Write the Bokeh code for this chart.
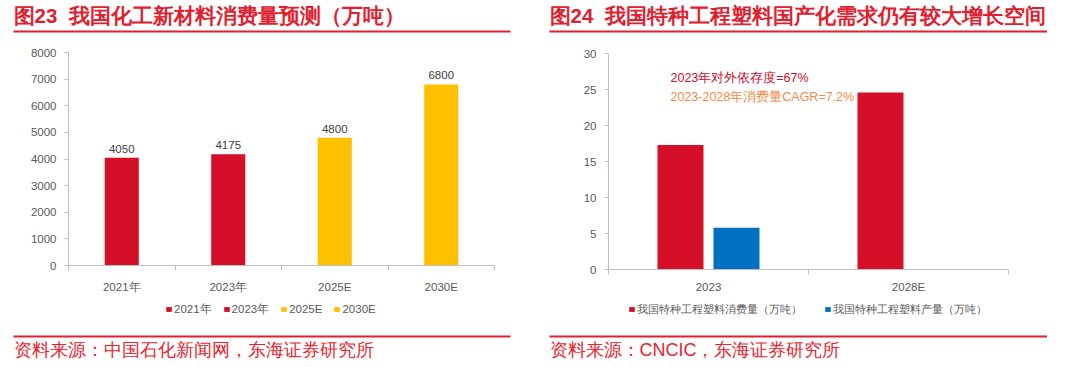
from bokeh.plotting import figure
from bokeh.models import (ColumnDataSource, Range1d, FixedTicker, Legend, LegendItem,
                          Label, BoxAnnotation)
from bokeh.layouts import row, column
from bokeh.embed import file_html
from bokeh.resources import INLINE
from bokeh.core.properties import value

# ---------------- data ----------------
left_title = "图23\u00a0\u00a0我国化工新材料消费量预测（万吨）"
left_source = "资料来源：中国石化新闻网，东海证券研究所"
left_categories = ["2021年", "2023年", "2025E", "2030E"]
left_values = [4050, 4175, 4800, 6800]
left_yticks = [0, 1000, 2000, 3000, 4000, 5000, 6000, 7000, 8000]

right_title = "图24\u00a0\u00a0我国特种工程塑料国产化需求仍有较大增长空间"
right_source = "资料来源：CNCIC，东海证券研究所"
right_categories = ["2023", "2028E"]
right_consumption = [17.3, 24.6]
right_production = [5.8, float("nan")]
right_series = ["我国特种工程塑料消费量（万吨）", "我国特种工程塑料产量（万吨）"]
right_yticks = [0, 5, 10, 15, 20, 25, 30]
note1 = "2023年对外依存度=67%"
note2 = "2023-2028年消费量CAGR=7.2%"

# ---------------- styles ----------------
RED = "#d50f27"
YELLOW = "#ffc000"
BLUE = "#0070c0"
TITLE_RED = "#e0202e"
SRC_RED = "#e8232f"
AXIS_GRAY = "#bfbfbf"
TEXT_GRAY = "#595959"
FONT = "Liberation Sans"
left_colors = [RED, RED, YELLOW, YELLOW]
right_colors = [RED, BLUE]
NAN = float("nan")


def no_align(p):
    if "frame_align" in p.properties():
        p.frame_align = False
    return p


def decor_fig(width, height):
    p = figure(width=width, height=height, output_backend="svg", toolbar_location=None,
               x_range=Range1d(0, width), y_range=Range1d(0, height),
               min_border=0, x_axis_location=None, y_axis_location=None)
    p.outline_line_color = None
    p.grid.visible = False
    return no_align(p)


def header(width, text, x0, x1):
    p = decor_fig(width, 33)
    p.add_layout(Label(x=x0, y=18, text=text, text_baseline="middle", text_font=FONT,
                       text_font_size="20.5px", text_font_style="bold", text_color=TITLE_RED))
    p.add_layout(BoxAnnotation(left=x0, right=x1, bottom=1, top=3,
                               fill_color=TITLE_RED, fill_alpha=1, line_color=None))
    return p


def footer(width, text, x0, x1, labels, colors, leg_x, spacing, leg_font):
    p = decor_fig(width, 71)
    items = []
    for lab, col in zip(labels, colors):
        # legend swatch renderer (a single NaN placeholder, nothing is drawn in the plot)
        r = p.vbar(x=[NAN], top=[NAN], width=1, color=col, line_color=None)
        items.append(LegendItem(label=lab, renderers=[r]))
    lg = Legend(items=items, location=(leg_x, 47), orientation="horizontal",
                border_line_color=None, background_fill_alpha=0, margin=0, padding=0,
                spacing=spacing, glyph_width=7, glyph_height=6, label_standoff=2,
                label_text_font=FONT, label_text_font_size=leg_font,
                label_text_color=TEXT_GRAY, label_height=20)
    p.add_layout(lg)
    p.add_layout(BoxAnnotation(left=x0, right=x1, bottom=29, top=31,
                               fill_color=TITLE_RED, fill_alpha=1, line_color=None))
    p.add_layout(Label(x=x0, y=17, text=text, text_baseline="middle", text_font=FONT,
                       text_font_size="18px", text_color=SRC_RED))
    return p


def style_axes(p, n_cat, labels, yticks, standoff):
    centers = [i + 0.5 for i in range(n_cat)]
    bounds = [float(i) for i in range(n_cat + 1)]
    xa = p.xaxis[0]
    xa.ticker = FixedTicker(ticks=centers, minor_ticks=bounds)
    xa.major_label_overrides = {c: l for c, l in zip(centers, labels)}
    xa.major_tick_out = 0
    xa.major_tick_in = 0
    xa.minor_tick_out = 5
    xa.minor_tick_in = 0
    xa.minor_tick_line_color = AXIS_GRAY
    xa.axis_line_color = AXIS_GRAY
    xa.major_label_text_font = FONT
    xa.major_label_text_font_size = "11.5px"
    xa.major_label_text_color = TEXT_GRAY
    xa.major_label_standoff = standoff
    ya = p.yaxis[0]
    ya.ticker = FixedTicker(ticks=yticks)
    ya.major_tick_out = 4
    ya.major_tick_in = 0
    ya.minor_tick_out = 0
    ya.minor_tick_in = 0
    ya.major_tick_line_color = AXIS_GRAY
    ya.axis_line_color = AXIS_GRAY
    ya.major_label_text_font = FONT
    ya.major_label_text_font_size = "11.5px"
    ya.major_label_text_color = TEXT_GRAY
    ya.major_label_standoff = 8
    p.xgrid.visible = False
    p.ygrid.visible = False
    p.outline_line_color = None
    no_align(p)


# ---------------- left chart ----------------
WL = 511
pL = figure(width=WL, height=262, output_backend="svg", toolbar_location=None,
            x_range=Range1d(0, len(left_categories)), y_range=Range1d(0, 8000),
            min_border_left=68, min_border_right=17, min_border_top=19, min_border_bottom=30)
srcL = ColumnDataSource(dict(
    x=[i + 0.5 for i in range(len(left_categories))],
    top=left_values,
    color=left_colors,
    label=[str(v) for v in left_values],
))
pL.vbar(x="x", top="top", width=0.32, color="color", line_color=None, source=srcL)
pL.text(x="x", y="top", text="label", source=srcL, text_align="center", text_baseline="bottom",
        y_offset=-5, text_font=value(FONT), text_font_size="11.5px", text_color="#404040")
style_axes(pL, len(left_categories), left_categories, left_yticks, 10)

colL = column(row(header(WL, left_title, 13, 510)), row(pL),
              row(footer(WL, left_source, 13, 510, left_categories, left_colors, 165, 11,
                         "11.5px")),
              spacing=0)

# ---------------- right chart ----------------
WR = 507
pR = figure(width=WR, height=262, output_backend="svg", toolbar_location=None,
            x_range=Range1d(0, len(right_categories)), y_range=Range1d(0, 30),
            min_border_left=68, min_border_right=39, min_border_top=20, min_border_bottom=22)
centersR = [i + 0.5 for i in range(len(right_categories))]
srcR = ColumnDataSource(dict(
    xc=[c - 0.14 for c in centersR],
    xp=[c + 0.14 for c in centersR],
    cons=right_consumption,
    prod=right_production,
))
pR.vbar(x="xc", top="cons", width=0.23, color=RED, line_color=None, source=srcR)
pR.vbar(x="xp", top="prod", width=0.23, color=BLUE, line_color=None, source=srcR)
style_axes(pR, len(right_categories), right_categories, right_yticks, 6)
pR.add_layout(Label(x=0.31, y=26.6, text=note1, text_baseline="middle",
                    text_font=FONT, text_font_size="12.5px", text_color="#c8102e"))
pR.add_layout(Label(x=0.31, y=24.0, text=note2, text_baseline="middle",
                    text_font=FONT, text_font_size="12.5px", text_color="#f28a48"))

colR = column(row(header(WR, right_title, 9, 507)), row(pR),
              row(footer(WR, right_source, 9, 507, right_series, right_colors, 88, 22,
                         "11px")),
              spacing=0)

layout = row(colL, colR, spacing=29)

open("out.html", "w").write(file_html(layout, INLINE))
